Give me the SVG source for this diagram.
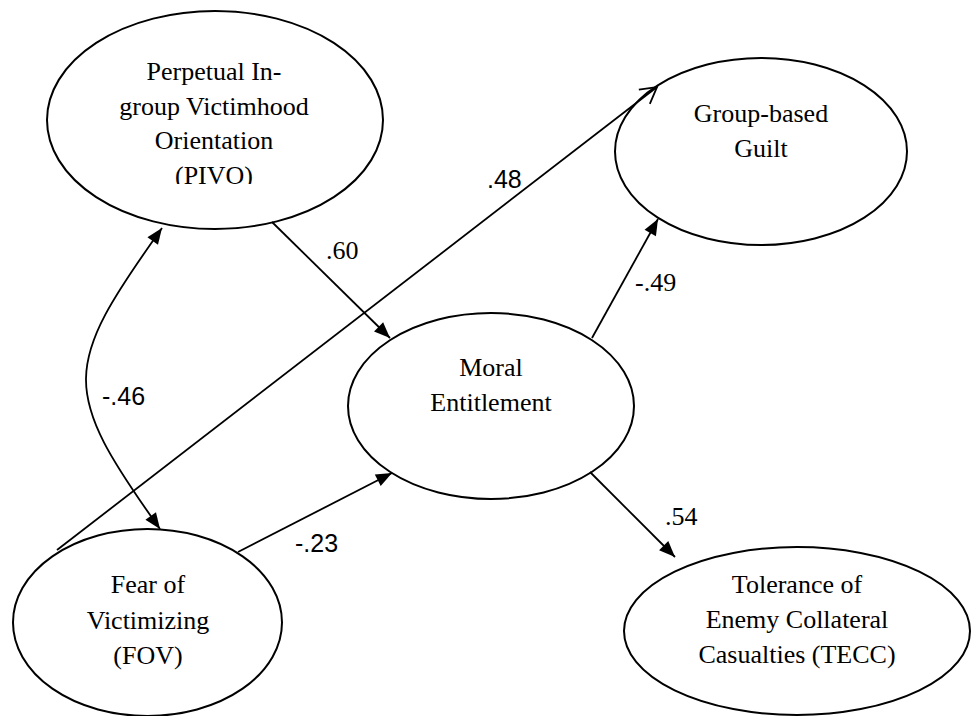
<svg xmlns="http://www.w3.org/2000/svg" width="971" height="716" viewBox="0 0 971 716">
<style>
.node ellipse{fill:#fff;stroke:#000;stroke-width:2}
.node text{font-family:"Liberation Serif","Times New Roman",serif;font-size:26px;fill:#000;text-anchor:middle}
.edge{fill:none;stroke:#000;stroke-width:1.8}
.lbl{font-family:"Liberation Serif","Times New Roman",serif;font-size:26px;fill:#000}
.lbls{font-family:"Liberation Sans",Arial,sans-serif;font-size:25px;fill:#000}
</style>
<defs>
<marker id="ah" markerUnits="userSpaceOnUse" markerWidth="18" markerHeight="14" refX="16" refY="6.5" orient="auto-start-reverse" overflow="visible">
<path d="M0,0 L16,6.5 L0,13 Z" fill="#000"/>
</marker>
<marker id="open" markerUnits="userSpaceOnUse" markerWidth="20" markerHeight="20" refX="16" refY="9" orient="auto" overflow="visible">
<path d="M0,0 L16,9 L0,18" fill="none" stroke="#000" stroke-width="1.8"/>
</marker>
<clipPath id="pivoclip"><rect x="0" y="0" width="400" height="184"/></clipPath>
</defs>
<rect width="971" height="716" fill="#fff"/>
<g id="nodes">
<g id="pivo" class="node">
<ellipse cx="215" cy="120" rx="168" ry="109"/>
<g clip-path="url(#pivoclip)">
<text x="214" y="80">Perpetual In-</text>
<text x="214" y="114.5">group Victimhood</text>
<text x="214" y="149">Orientation</text>
<text x="214" y="183.5">(PIVO)</text>
</g>
</g>
<g id="guilt" class="node">
<ellipse cx="761" cy="151.5" rx="146" ry="93.5"/>
<text x="761" y="122">Group-based</text>
<text x="761" y="157">Guilt</text>
</g>
<g id="moral" class="node">
<ellipse cx="491" cy="406" rx="143" ry="93"/>
<text x="491" y="376">Moral</text>
<text x="491" y="411">Entitlement</text>
</g>
<g id="fov" class="node">
<ellipse cx="147.5" cy="622.5" rx="134.5" ry="93.5"/>
<text x="148" y="593">Fear of</text>
<text x="148" y="628.5">Victimizing</text>
<text x="148" y="664">(FOV)</text>
</g>
<g id="tecc" class="node">
<ellipse cx="797" cy="631" rx="173" ry="84"/>
<text x="797" y="593">Tolerance of</text>
<text x="797" y="628">Enemy Collateral</text>
<text x="797" y="663">Casualties (TECC)</text>
</g>
</g>
<g id="connectors">
<path class="edge" d="M272,222 L390,338" marker-end="url(#ah)"/>
<path class="edge" d="M57,550 L657,87" marker-end="url(#open)"/>
<path class="edge" d="M592,338 L658,219" marker-end="url(#ah)"/>
<path class="edge" d="M238,552 L392,473" marker-end="url(#ah)"/>
<path class="edge" d="M590,472 L675,557" marker-end="url(#ah)"/>
<path class="edge" d="M162,228 C62,368 60,389 160,529" marker-start="url(#ah)" marker-end="url(#ah)"/>
<text class="lbl" x="326" y="259">.60</text>
<text class="lbls" x="487" y="188">.48</text>
<text class="lbl" x="635" y="291">-.49</text>
<text class="lbls" x="102" y="405">-.46</text>
<text class="lbls" x="295" y="552">-.23</text>
<text class="lbl" x="665" y="525">.54</text>
</g>
</svg>
